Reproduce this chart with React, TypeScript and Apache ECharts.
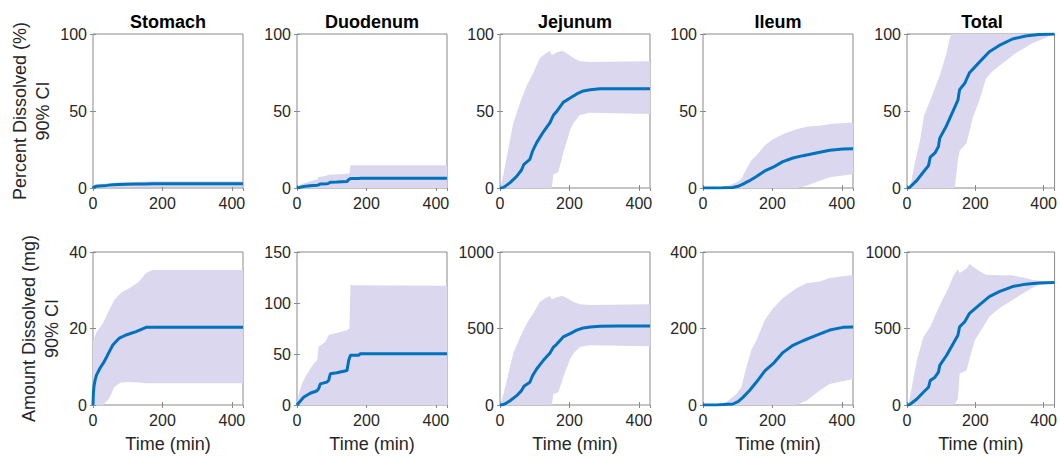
import React, { useEffect, useRef } from "react";
import * as echarts from "echarts";

// ---------- Data ----------
const titles = ["Stomach", "Duodenum", "Jejunum", "Ileum", "Total"];
const xTicks = [0, 200, 400];

// Stomach
const stomachMedT = [0, 1, 3, 6, 10, 20, 30, 40, 57, 76, 95, 124, 153, 170, 432];
const stomachAmtMed = [0, 3, 5, 6.5, 7.8, 9.6, 11, 12.7, 15.7, 17.5, 18.3, 19.2, 20.3, 20.3, 20.3];
const stomachPctMed = [0, 0.4, 0.7, 0.9, 1.1, 1.3, 1.5, 1.7, 2.1, 2.3, 2.45, 2.55, 2.65, 2.7, 2.7];
const stomachBandT = [0, 10, 29, 45, 62, 80, 105, 130, 153, 172, 432];
const stomachAmtHi = [16.6, 19, 21.4, 24.5, 27.5, 29.3, 30.6, 32, 34.5, 35.3, 35.3];
const stomachAmtLo = [0, 0, 0, 1.5, 4.8, 5.9, 6, 5.9, 5.7, 5.7, 5.7];
const stomachPctHi = [2.1, 2.4, 2.7, 3.1, 3.4, 3.7, 3.8, 4, 4.3, 4.4, 4.4];
const stomachPctLo = [0, 0, 0, 0.2, 0.6, 0.7, 0.75, 0.7, 0.7, 0.7, 0.7];

// Duodenum
const duodMedT = [0, 19, 38, 58, 62, 67, 86, 91, 96, 115, 144, 149, 154, 178, 182, 432];
const duodAmtMed = [0, 7.6, 11.5, 14, 15.8, 20.7, 22.4, 24, 30.6, 31.6, 33.9, 43.8, 48.7, 48.7, 50.3, 50.3];
const duodPctMed = [0, 0.95, 1.4, 1.75, 2, 2.6, 2.8, 3, 3.8, 3.95, 4.2, 5.5, 6.1, 6.1, 6.3, 6.3];
const duodBandT = [0, 5, 14, 29, 48, 58, 62, 82, 91, 96, 144, 151, 154, 160, 432];
const duodAmtHi = [0, 10, 20.7, 30.6, 40.5, 43.8, 57, 62, 68.4, 69, 73.4, 75, 117.8, 117.5, 117];
const duodAmtLo = [0, 0, 0, 0, 0, 0, 0, 0, 0, 0, 0, 0, 0, 0, 0];
const duodPctHi = [0, 1.25, 2.6, 3.8, 5.1, 5.5, 7.1, 7.8, 8.6, 8.6, 9.2, 9.4, 14.8, 14.8, 14.7];
const duodPctLo = [0, 0, 0, 0, 0, 0, 0, 0, 0, 0, 0, 0, 0, 0, 0];

// Jejunum
const jejMedT = [0, 5, 14, 29, 48, 62, 69, 86, 94, 106, 125, 144, 154, 163, 182, 202, 221, 240, 260, 288, 340, 432];
const jejAmtMed = [0, 0, 7, 28, 61, 94, 123, 149, 193, 237, 292, 340, 379, 397, 445, 467, 489, 504, 510, 515, 516, 516];
const jejPctMed = [0, 0, 0.9, 3.5, 7.6, 11.7, 15.4, 18.6, 24.1, 29.6, 36.5, 42.5, 47.4, 49.6, 55.6, 58.4, 61.1, 63, 63.8, 64.4, 64.5, 64.5];
const jejBandT = [0, 10, 24, 38, 58, 77, 96, 115, 130, 144, 149, 154, 163, 168, 178, 182, 197, 202, 211, 230, 259, 432];
const jejAmtHi = [0, 72, 204, 335, 445, 533, 599, 675, 697, 713, 691, 695, 704, 708, 713, 710, 695, 686, 675, 658, 654, 658];
const jejAmtLo = [0, 0, 0, 0, 0, 0, 0, 0, 0, 0, 0, 72, 78, 83, 150, 182, 270, 300, 335, 379, 390, 384];
const jejPctHi = [0, 9, 25.5, 41.9, 55.6, 66.6, 74.9, 84.4, 87.1, 89.1, 86.4, 86.9, 88, 88.5, 89.1, 88.8, 86.9, 85.8, 84.4, 82.3, 81.8, 82.3];
const jejPctLo = [0, 0, 0, 0, 0, 0, 0, 0, 0, 0, 0, 9, 9.8, 10.4, 18.8, 22.8, 33.8, 37.5, 41.9, 47.4, 48.8, 48];

// Ileum
const ileMedT = [0, 40, 58, 86, 101, 115, 134, 154, 178, 202, 230, 259, 288, 326, 365, 403, 432];
const ileAmtMed = [0, 0, 1, 2.6, 8.8, 20, 38, 60, 89, 108, 137, 156, 168, 182, 196, 203, 204];
const ilePctMed = [0, 0, 0.1, 0.3, 1.1, 2.5, 4.75, 7.5, 11.1, 13.5, 17.1, 19.5, 21, 22.75, 24.5, 25.4, 25.5];
const ileBandT = [0, 38, 67, 96, 110, 125, 139, 154, 178, 202, 230, 269, 298, 336, 365, 432];
const ileAmtHi = [0, 1, 7, 29, 46, 99, 143, 169, 222, 253, 279, 305, 318, 323, 332, 340];
const ileAmtLo = [0, 0, 0, 0, 0, 0, 0, 0, 0, 0, 0, 0, 11, 38, 55, 68];
const ilePctHi = [0, 0.1, 0.9, 3.6, 5.75, 12.4, 17.9, 21.1, 27.75, 31.6, 34.9, 38.1, 39.75, 40.4, 41.5, 42.5];
const ilePctLo = [0, 0, 0, 0, 0, 0, 0, 0, 0, 0, 0, 0, 1.4, 4.75, 6.9, 9];

// Total
const totMedT = [0, 5, 10, 29, 48, 63, 68, 82, 92, 96, 116, 135, 149, 154, 169, 183, 212, 241, 270, 309, 347, 386, 432];
const totAmtMed = [0, 0, 7, 39, 83, 116, 160, 182, 215, 259, 325, 401, 456, 511, 544, 599, 654, 708, 741, 774, 790, 797, 800];
const totPctMed = [0, 0, 0.9, 4.9, 10.4, 14.5, 20, 22.75, 26.9, 32.4, 40.6, 50.1, 57, 63.9, 68, 74.9, 81.75, 88.5, 92.6, 96.75, 98.75, 99.6, 100];
const totAmtBandT = [0, 5, 14, 29, 48, 68, 96, 121, 135, 140, 149, 154, 169, 174, 183, 193, 198, 217, 231, 241, 270, 309, 347, 366, 386, 432];
const totAmtHi = [0, 10, 116, 292, 445, 511, 654, 763, 840, 860, 888, 862, 884, 890, 921, 905, 895, 870, 851, 850, 848, 848, 830, 818, 812, 803];
const totAmtLo = [0, 0, 0, 0, 0, 0, 0, 0, 0, 5, 39, 204, 220, 226, 300, 379, 420, 489, 540, 577, 632, 686, 741, 765, 785, 800];
const totPctBandT = [0, 5, 10, 19, 39, 50, 68, 96, 116, 125, 130, 140, 149, 154, 174, 193, 212, 231, 251, 280, 318, 367, 432];
const totPctHi = [0, 0.3, 1, 12, 32, 47, 57, 73, 88, 97, 100, 100, 100, 100, 100, 100, 100, 100, 100, 100, 100, 100, 100];
const totPctLo = [0, 0, 0, 0, 0, 0, 0, 0, 0, 0, 0, 0, 18, 24, 29, 46, 57, 71, 76, 81, 87.5, 94, 100];

// axis scales
const pctMax = [100, 100, 100, 100, 100];
const pctInterval = [50, 50, 50, 50, 50];
const amtMax = [40, 150, 1000, 400, 1000];
const amtInterval = [20, 50, 500, 200, 500];

// ---------- Layout / style ----------
const LINE = "#0072BD";
const BAND = "#dbd7ee";
const BOX = "#8a8a8a";
const TXT = "#262626";
const FONT = "'Liberation Sans', Arial, Helvetica, sans-serif";
const lefts = [93, 297, 500, 703, 907];
const PW = 150;
const rowTop = [34, 252];
const rowH = [154, 153];
const XMAX = 432;

type Panel = {
  medT: number[]; med: number[]; bandT: number[]; lo: number[]; hi: number[];
  max: number; interval: number; row: number; col: number;
};

const topPanels: Panel[] = [
  { medT: stomachMedT, med: stomachPctMed, bandT: stomachBandT, lo: stomachPctLo, hi: stomachPctHi, max: pctMax[0], interval: pctInterval[0], row: 0, col: 0 },
  { medT: duodMedT, med: duodPctMed, bandT: duodBandT, lo: duodPctLo, hi: duodPctHi, max: pctMax[1], interval: pctInterval[1], row: 0, col: 1 },
  { medT: jejMedT, med: jejPctMed, bandT: jejBandT, lo: jejPctLo, hi: jejPctHi, max: pctMax[2], interval: pctInterval[2], row: 0, col: 2 },
  { medT: ileMedT, med: ilePctMed, bandT: ileBandT, lo: ilePctLo, hi: ilePctHi, max: pctMax[3], interval: pctInterval[3], row: 0, col: 3 },
  { medT: totMedT, med: totPctMed, bandT: totPctBandT, lo: totPctLo, hi: totPctHi, max: pctMax[4], interval: pctInterval[4], row: 0, col: 4 },
];
const bottomPanels: Panel[] = [
  { medT: stomachMedT, med: stomachAmtMed, bandT: stomachBandT, lo: stomachAmtLo, hi: stomachAmtHi, max: amtMax[0], interval: amtInterval[0], row: 1, col: 0 },
  { medT: duodMedT, med: duodAmtMed, bandT: duodBandT, lo: duodAmtLo, hi: duodAmtHi, max: amtMax[1], interval: amtInterval[1], row: 1, col: 1 },
  { medT: jejMedT, med: jejAmtMed, bandT: jejBandT, lo: jejAmtLo, hi: jejAmtHi, max: amtMax[2], interval: amtInterval[2], row: 1, col: 2 },
  { medT: ileMedT, med: ileAmtMed, bandT: ileBandT, lo: ileAmtLo, hi: ileAmtHi, max: amtMax[3], interval: amtInterval[3], row: 1, col: 3 },
  { medT: totMedT, med: totAmtMed, bandT: totAmtBandT, lo: totAmtLo, hi: totAmtHi, max: amtMax[4], interval: amtInterval[4], row: 1, col: 4 },
];

function buildOption() {
  const panels = [...topPanels, ...bottomPanels];
  const grid: any[] = [];
  const xAxis: any[] = [];
  const yAxis: any[] = [];
  const series: any[] = [];
  const tickStyle = { show: true, inside: true, length: 3, lineStyle: { color: BOX, width: 1 } };

  panels.forEach((p, i) => {
    grid.push({
      left: lefts[p.col], top: rowTop[p.row], width: PW, height: rowH[p.row],
      show: true, borderColor: BOX, borderWidth: 1, backgroundColor: "transparent",
      containLabel: false,
    });
    xAxis.push({
      type: "value", gridIndex: i, min: 0, max: XMAX, interval: 200, position: "bottom",
      axisLine: { show: false }, splitLine: { show: false }, axisTick: tickStyle,
      axisLabel: {
        show: true, color: TXT, fontSize: 16, fontFamily: FONT, margin: 7, showMaxLabel: false,
        formatter: (v: number) => (xTicks.includes(v) ? String(v) : ""),
      },
      name: p.row === 1 ? "Time (min)" : "", nameLocation: "middle", nameGap: 30,
      nameTextStyle: { color: TXT, fontSize: 18, fontFamily: FONT },
    });
    xAxis.push({
      type: "value", gridIndex: i, min: 0, max: XMAX, interval: 200, position: "top",
      axisLine: { show: false }, splitLine: { show: false }, axisTick: tickStyle,
      axisLabel: { show: false },
    });
    yAxis.push({
      type: "value", gridIndex: i, min: 0, max: p.max, interval: p.interval, position: "left",
      axisLine: { show: false }, splitLine: { show: false }, axisTick: tickStyle,
      axisLabel: {
        show: true, color: TXT, fontSize: 16, fontFamily: FONT, margin: 6,
        formatter: (v: number) => String(v),
      },
    });
    yAxis.push({
      type: "value", gridIndex: i, min: 0, max: p.max, interval: p.interval, position: "right",
      axisLine: { show: false }, splitLine: { show: false }, axisTick: tickStyle,
      axisLabel: { show: false },
    });
    const xi = 2 * i;
    const yi = 2 * i;
    const bandT = p.bandT, lo = p.lo, hi = p.hi;
    series.push({
      type: "custom", coordinateSystem: "cartesian2d", xAxisIndex: xi, yAxisIndex: yi,
      silent: true, clip: true, z: 1,
      data: [[bandT[0], lo[0]]],
      renderItem: (_params: any, api: any) => {
        const upper = bandT.map((t, k) => api.coord([t, hi[k]]));
        const lower = bandT.map((t, k) => api.coord([t, lo[k]])).reverse();
        return {
          type: "polygon",
          shape: { points: upper.concat(lower) },
          style: { fill: BAND, stroke: "none" },
        };
      },
    });
    series.push({
      type: "line", xAxisIndex: xi, yAxisIndex: yi, symbol: "none", silent: true,
      lineStyle: { color: LINE, width: 3 },
      data: p.medT.map((t, k) => [t, p.med[k]]),
      z: 3,
    });
  });

  const graphic: any[] = [];
  titles.forEach((t, c) => {
    graphic.push({
      type: "text", x: lefts[c] + PW / 2, y: 22,
      style: {
        text: t, fill: "#000", font: `bold 18px ${FONT}`,
        align: "center", verticalAlign: "middle", textAlign: "center", textVerticalAlign: "middle",
      },
    });
  });
  const ylabels = [
    { text: "Percent Dissolved (%)\n90% CI", x: 31, y: rowTop[0] + rowH[0] / 2 },
    { text: "Amount Dissolved (mg)\n90% CI", x: 40, y: rowTop[1] + rowH[1] / 2 },
  ];
  ylabels.forEach((l) => {
    graphic.push({
      type: "text", x: l.x, y: l.y, rotation: Math.PI / 2,
      style: {
        text: l.text, fill: TXT, font: `18px ${FONT}`, lineHeight: 23,
        align: "center", verticalAlign: "middle", textAlign: "center", textVerticalAlign: "middle",
      },
    });
  });

  return {
    animation: false,
    backgroundColor: "#ffffff",
    textStyle: { fontFamily: FONT },
    grid, xAxis, yAxis, series, graphic,
  };
}

export default function App() {
  const ref = useRef<HTMLDivElement>(null);
  useEffect(() => {
    if (!ref.current) return;
    const chart = echarts.init(ref.current, undefined, { renderer: "svg" });
    chart.setOption(buildOption() as any);
    return () => chart.dispose();
  }, []);
  return (
    <div
      ref={ref}
      style={{ position: "absolute", left: 0, top: 0, width: 1060, height: 457, background: "#fff" }}
    />
  );
}
